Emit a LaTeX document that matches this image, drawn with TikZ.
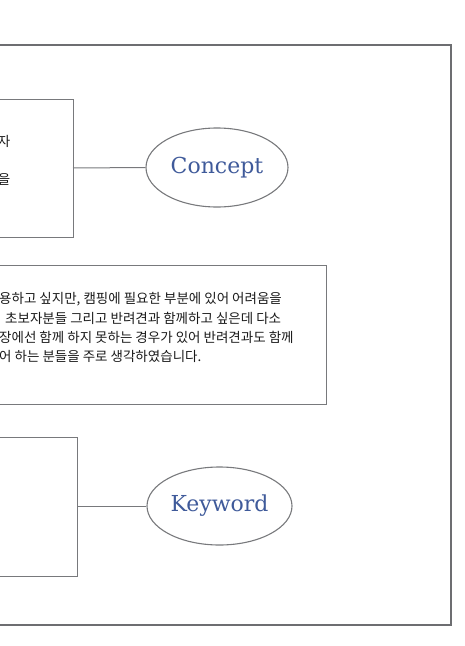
\documentclass[tikz,border=0pt]{standalone}
\usepackage{fontspec}
\newfontfamily\kofont{Noto Sans CJK KR}
\newfontfamily\serifblue{DejaVu Serif}
\usetikzlibrary{shapes.geometric}
\definecolor{framegray}{HTML}{6D6E71}
\definecolor{linegray}{HTML}{78797C}
\definecolor{titleblue}{HTML}{3F5A9A}
\definecolor{textdark}{HTML}{1A1A1A}
\tikzset{
  frame/.style={draw=framegray, line width=2.5pt},
  panel/.style={draw=linegray, line width=1pt},
  oval/.style={draw=linegray, line width=1.1pt, ellipse, inner sep=0pt},
  title/.style={font=\serifblue\fontsize{22}{24}\selectfont, text=titleblue},
  kotext/.style={font=\kofont\fontsize{13.5}{16}\selectfont, text=textdark, inner sep=0pt},
  link/.style={draw=linegray, line width=1pt}
}
\begin{document}
\begin{tikzpicture}[x=1pt,y=-1pt]
\useasboundingbox (0,0) rectangle (465,646);
% outer frame
\draw[frame] (-10,45) -- (451,45) -- (451,625) -- (-10,625);
% boxes
\draw[panel] (-10,99) rectangle (73,237);
\coordinate (b1e) at (73,168);
\draw[panel] (-10,265) rectangle (326,404);
\draw[panel] (-10,437) rectangle (77,576);
\coordinate (b3e) at (77,506);
% ellipses
\node[oval, minimum width=142pt, minimum height=79pt] (concept) at (217,167.5) {};
\node[title] at (concept.center) {Concept};
\node[oval, minimum width=145pt, minimum height=78pt] (keyword) at (219.5,506) {};
\node[title] at (keyword.center) {Keyword};
\draw[link] (b1e) -- (concept.west);
\draw[link] (b3e) -- (keyword.west);
% box 1 text fragments
\node[kotext, anchor=east] (t1a) at (10.5,141) {자};
\node[kotext, anchor=east] (t1b) at (10.5,179) {을};
% box 2 text
\node[kotext, anchor=west] (l1) at (-1,299) {용하고 싶지만, 캠핑에 필요한 부분에 있어 어려움을};
\node[kotext, anchor=west] (l2) at (5,318) {초보자분들 그리고 반려견과 함께하고 싶은데 다소};
\node[kotext, anchor=west] (l3) at (-1,337) {장에선 함께 하지 못하는 경우가 있어 반려견과도 함께};
\node[kotext, anchor=west] (l4) at (-1,356) {어 하는 분들을 주로 생각하였습니다.};
\end{tikzpicture}
\end{document}
